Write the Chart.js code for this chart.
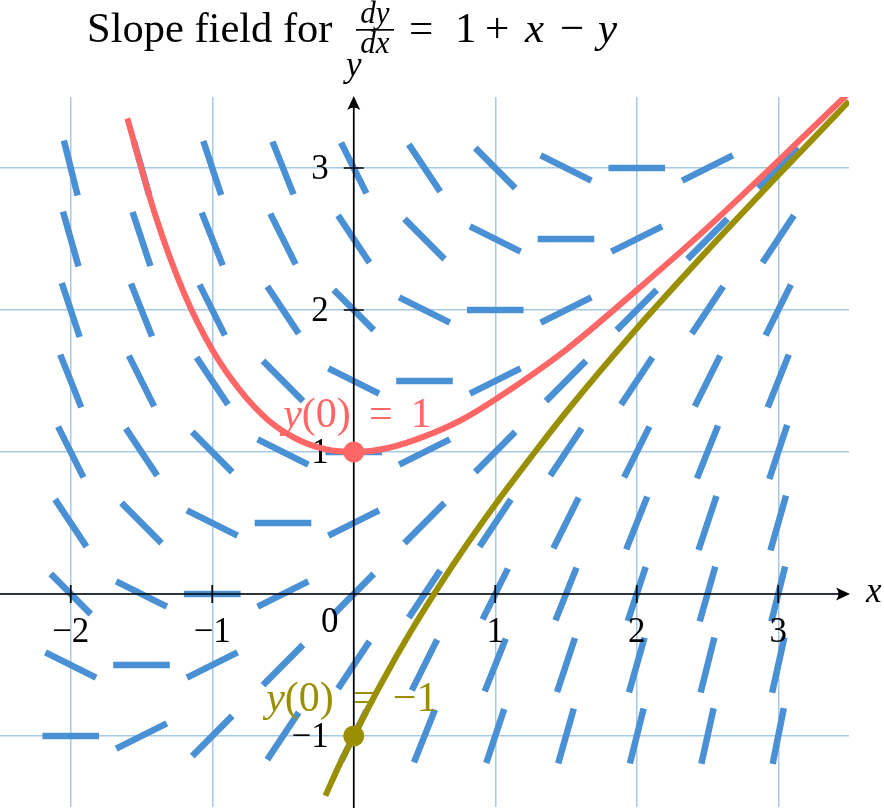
<!DOCTYPE html>
<html lang="en">
<head>
<meta charset="UTF-8">
<title>Slope field</title>
<script src="https://cdn.jsdelivr.net/npm/chart.js"></script>
<style>
  html, body { margin: 0; padding: 0; background: #fff; }
  #chart { display: block; }
</style>
</head>
<body>
<canvas id="chart" width="884" height="808"></canvas>
<script>
// --- data ---
const fieldX = [-2, -1.5, -1, -0.5, 0, 0.5, 1, 1.5, 2, 2.5, 3];
const fieldY = [3, 2.5, 2, 1.5, 1, 0.5, 0, -0.5, -1];
// slope of each little segment, one row per fieldY, one column per fieldX
const slopes = [
  [-4, -3.5, -3, -2.5, -2, -1.5, -1, -0.5, 0, 0.5, 1],
  [-3.5, -3, -2.5, -2, -1.5, -1, -0.5, 0, 0.5, 1, 1.5],
  [-3, -2.5, -2, -1.5, -1, -0.5, 0, 0.5, 1, 1.5, 2],
  [-2.5, -2, -1.5, -1, -0.5, 0, 0.5, 1, 1.5, 2, 2.5],
  [-2, -1.5, -1, -0.5, 0, 0.5, 1, 1.5, 2, 2.5, 3],
  [-1.5, -1, -0.5, 0, 0.5, 1, 1.5, 2, 2.5, 3, 3.5],
  [-1, -0.5, 0, 0.5, 1, 1.5, 2, 2.5, 3, 3.5, 4],
  [-0.5, 0, 0.5, 1, 1.5, 2, 2.5, 3, 3.5, 4, 4.5],
  [0, 0.5, 1, 1.5, 2, 2.5, 3, 3.5, 4, 4.5, 5]
];
const segLength = 0.4; // in axis units

// solution through y(0) = 1
const redX = [-1.6, -1.4, -1.2, -1.0, -0.8, -0.6, -0.4, -0.2, 0, 0.25, 0.5, 0.75, 1, 1.5, 2, 2.5, 3, 3.5];
const redY = [3.35, 2.66, 2.12, 1.72, 1.43, 1.22, 1.09, 1.02, 1, 1.03, 1.11, 1.22, 1.37, 1.72, 2.14, 2.58, 3.05, 3.53];
// solution through y(0) = -1
const oliveX = [-0.2, -0.1, 0, 0.2, 0.4, 0.6, 0.8, 1.0, 1.25, 1.5, 2, 2.5, 3, 3.5];
const oliveY = [-1.42, -1.2, -1, -0.62, -0.27, 0.05, 0.35, 0.63, 0.96, 1.28, 1.87, 2.42, 2.95, 3.47];

const startX = [0, 0];
const startY = [1, -1];

const gridTicksX = [-2, -1, 0, 1, 2, 3];
const gridTicksY = [-1, 0, 1, 2, 3];
const xTickLabels = [-2, -1, 1, 2, 3];
const yTickLabels = [-1, 1, 2, 3];

// --- colours / fonts ---
const blue = '#4a90d4';
const red = '#ff6666';
const olive = '#998f00';
const gridColor = '#a6c9e8';
const SERIF = '"Liberation Serif", "DejaVu Serif", serif';

// build segments, separated by a gap point
const segData = [];
fieldY.forEach((yv, i) => {
  fieldX.forEach((xv, j) => {
    const s = slopes[i][j];
    const h = segLength / 2 / Math.sqrt(1 + s * s);
    segData.push({ x: xv - h, y: yv - s * h }, { x: xv + h, y: yv + s * h }, { x: xv, y: null });
  });
});

const toPoints = (xs, ys) => xs.map((v, i) => ({ x: v, y: ys[i] }));

function minusFmt(v) {
  return v < 0 ? '\u2212' + Math.abs(v) : String(v);
}

function arrowHead(ctx, tx, ty, dir) {
  ctx.save();
  ctx.translate(tx, ty);
  if (dir === 'up') ctx.rotate(-Math.PI / 2);
  ctx.beginPath();
  ctx.moveTo(0, 0);
  ctx.lineTo(-14, -6.5);
  ctx.quadraticCurveTo(-9, 0, -14, 6.5);
  ctx.closePath();
  ctx.fill();
  ctx.restore();
}

function setFont(ctx, size, italic) {
  ctx.font = (italic ? 'italic ' : '') + size + 'px ' + SERIF;
}

// label like  y(0) = 1  placed around the start point
function drawStartLabel(ctx, px, baseline, value, offs) {
  ctx.textAlign = 'right';
  setFont(ctx, 42, false);
  const w = ctx.measureText('(0)').width;
  ctx.fillText('(0)', px + offs[0], baseline);
  setFont(ctx, 42, true);
  ctx.fillText('y', px + offs[0] - w, baseline);
  setFont(ctx, 42, false);
  ctx.textAlign = 'center';
  ctx.fillText('=', px + offs[1], baseline);
  ctx.textAlign = 'left';
  ctx.fillText(minusFmt(value), px + offs[2], baseline);
}

function drawAxes(chart) {
  const { ctx, chartArea: a, scales: { x, y } } = chart;
  const x0 = x.getPixelForValue(0);
  const y0 = y.getPixelForValue(0);
  ctx.save();
  ctx.strokeStyle = '#000';
  ctx.fillStyle = '#000';
  ctx.lineWidth = 1.7;
  ctx.beginPath();
  ctx.moveTo(a.left, y0);
  ctx.lineTo(a.right - 6, y0);
  ctx.moveTo(x0, a.bottom + 2);
  ctx.lineTo(x0, a.top + 6);
  xTickLabels.forEach(v => {
    const p = x.getPixelForValue(v);
    ctx.moveTo(p, y0 - 9);
    ctx.lineTo(p, y0 + 9);
  });
  yTickLabels.forEach(v => {
    const p = y.getPixelForValue(v);
    ctx.moveTo(x0 - 10, p);
    ctx.lineTo(x0 + 10, p);
  });
  ctx.stroke();
  arrowHead(ctx, a.right + 1, y0, 'right');
  arrowHead(ctx, x0, a.top - 1, 'up');

  // tick labels
  setFont(ctx, 35, false);
  ctx.textBaseline = 'alphabetic';
  ctx.textAlign = 'center';
  xTickLabels.forEach(v => ctx.fillText(minusFmt(v), x.getPixelForValue(v), y0 + 48));
  ctx.fillText('0', x0 - 24, y0 + 38);
  ctx.textAlign = 'right';
  yTickLabels.forEach(v => ctx.fillText(minusFmt(v), x0 - 25, y.getPixelForValue(v) + 11));

  // axis names
  setFont(ctx, 35, true);
  ctx.textAlign = 'left';
  ctx.fillText('x', a.right + 17, y0 + 8);
  ctx.textAlign = 'center';
  ctx.fillText('y', x0, a.top - 21);
  ctx.restore();
}

function drawTitle(ctx) {
  ctx.save();
  ctx.fillStyle = '#000';
  ctx.textBaseline = 'alphabetic';
  ctx.textAlign = 'left';
  setFont(ctx, 42.5, false);
  ctx.fillText('Slope field for', 87, 42);
  // dy/dx
  ctx.textAlign = 'center';
  setFont(ctx, 31, true);
  ctx.fillText('dy', 375, 23);
  ctx.fillText('dx', 375, 53);
  ctx.fillRect(356, 29, 38, 1.7);
  ctx.textAlign = 'left';
  const rest = [['=', false, 409], ['1', false, 455], ['+', false, 485], ['x', true, 525], ['\u2212', false, 560], ['y', true, 598]];
  rest.forEach(p => {
    setFont(ctx, 43, p[1]);
    ctx.fillText(p[0], p[2], 42);
  });
  ctx.restore();
}

const decorations = {
  id: 'decorations',
  afterDatasetDraw(chart, args) {
    if (args.index === 0) drawAxes(chart);
  },
  afterDraw(chart) {
    const { ctx, scales: { x, y } } = chart;
    drawTitle(ctx);
    ctx.save();
    ctx.textBaseline = 'alphabetic';
    ctx.fillStyle = red;
    drawStartLabel(ctx, x.getPixelForValue(startX[0]), y.getPixelForValue(startY[0]) - 25, startY[0], [-3, 27, 57]);
    ctx.fillStyle = olive;
    drawStartLabel(ctx, x.getPixelForValue(startX[1]), y.getPixelForValue(startY[1]) - 25, startY[1], [-20, 11, 39]);
    ctx.restore();
  }
};

new Chart(document.getElementById('chart'), {
  type: 'scatter',
  data: {
    datasets: [
      {
        label: 'slope field',
        data: segData,
        showLine: true,
        spanGaps: false,
        borderColor: blue,
        borderWidth: 6.5,
        borderCapStyle: 'butt',
        pointRadius: 0,
        order: 3
      },
      {
        label: 'y(0) = 1',
        data: toPoints(redX, redY),
        showLine: true,
        borderColor: red,
        borderWidth: 6,
        cubicInterpolationMode: 'monotone',
        pointRadius: 0,
        order: 2
      },
      {
        label: 'y(0) = -1',
        data: toPoints(oliveX, oliveY),
        showLine: true,
        borderColor: olive,
        borderWidth: 6,
        cubicInterpolationMode: 'monotone',
        pointRadius: 0,
        order: 1
      },
      {
        label: 'start points',
        data: toPoints(startX, startY),
        showLine: false,
        pointRadius: 10.5,
        pointBorderWidth: 0,
        pointBackgroundColor: [red, olive],
        order: 0
      }
    ]
  },
  options: {
    responsive: false,
    animation: false,
    events: [],
    layout: { autoPadding: false, padding: { left: 0, right: 35, top: 97, bottom: 1 } },
    plugins: {
      legend: { display: false },
      tooltip: { enabled: false },
      title: { display: false }
    },
    scales: {
      x: {
        type: 'linear',
        min: -2.5,
        max: 3.5,
        afterBuildTicks: s => { s.ticks = gridTicksX.map(v => ({ value: v })); },
        ticks: { display: false },
        grid: { color: gridColor, lineWidth: 1.5, drawTicks: false },
        border: { display: false }
      },
      y: {
        type: 'linear',
        min: -1.5,
        max: 3.5,
        afterBuildTicks: s => { s.ticks = gridTicksY.map(v => ({ value: v })); },
        ticks: { display: false },
        grid: { color: gridColor, lineWidth: 1.5, drawTicks: false },
        border: { display: false }
      }
    }
  },
  plugins: [decorations]
});
</script>
</body>
</html>
